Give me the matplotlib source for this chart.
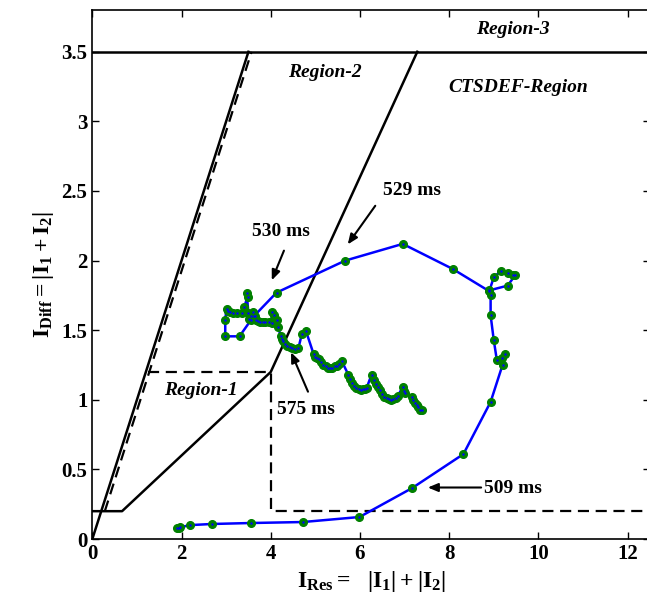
import matplotlib
matplotlib.use('Agg')
import matplotlib.pyplot as plt
import numpy as np

plt.rcParams['font.family'] = 'Liberation Serif'
plt.rcParams['font.weight'] = 'bold'
plt.rcParams['mathtext.fontset'] = 'custom'
plt.rcParams['mathtext.rm'] = 'Liberation Serif:bold'
plt.rcParams['mathtext.it'] = 'Liberation Serif:bold'
plt.rcParams['mathtext.bf'] = 'Liberation Serif:bold'

# trajectory of the operating point (I_res, I_diff)
i_res = [1.89, 1.94, 1.97, 2.19, 2.69, 3.56, 4.72, 5.99, 7.17, 8.32, 8.93, 9.20, 9.25, 9.18,
         9.07, 9.00, 8.93, 8.93, 8.90, 9.31, 9.48, 9.43, 9.31, 9.16, 9.00, 8.90, 8.08, 6.96,
         5.67, 4.13,
         3.62, 3.55, 3.30, 2.98, 2.98, 3.01, 3.05, 3.09, 3.16, 3.24, 3.35, 3.41, 3.48, 3.46,
         3.50, 3.52, 3.56, 3.60, 3.64, 3.68, 3.72, 3.76, 3.82, 3.88, 3.95, 4.02, 4.02, 4.07,
         4.13, 4.17, 4.22, 4.25, 4.28, 4.32, 4.37, 4.43, 4.48, 4.55, 4.62, 4.70, 4.79,
         4.96, 4.99, 5.03, 5.08, 5.13, 5.18, 5.23, 5.28, 5.33, 5.38, 5.43, 5.48, 5.53, 5.59,
         5.74, 5.78, 5.82, 5.87, 5.92, 5.97, 6.02, 6.07, 6.12, 6.15, 6.26,
         6.32, 6.36, 6.40, 6.45, 6.50, 6.55, 6.60, 6.65, 6.70, 6.75, 6.80, 6.85, 6.96, 6.98,
         7.02, 7.16, 7.20, 7.24, 7.27, 7.31, 7.35, 7.39]
i_diff = [0.077, 0.080, 0.084, 0.100, 0.108, 0.115, 0.122, 0.158, 0.366, 0.61, 0.985, 1.253, 1.33, 1.30,
          1.284, 1.43, 1.607, 1.755, 1.786, 1.82, 1.894, 1.90, 1.91, 1.925, 1.88, 1.78, 1.94, 2.12,
          2.00, 1.77,
          1.60, 1.57, 1.456, 1.456, 1.576, 1.655, 1.64, 1.63, 1.62, 1.62, 1.62, 1.67, 1.74, 1.77,
          1.62, 1.58, 1.60, 1.63, 1.60, 1.57, 1.565, 1.56, 1.56, 1.56, 1.56, 1.55, 1.63, 1.61,
          1.576, 1.52, 1.46, 1.44, 1.42, 1.40, 1.39, 1.38, 1.37, 1.365, 1.37, 1.476, 1.494,
          1.33, 1.31, 1.30, 1.29, 1.27, 1.25, 1.24, 1.23, 1.225, 1.23, 1.24, 1.245, 1.26, 1.28,
          1.18, 1.15, 1.12, 1.10, 1.085, 1.075, 1.07, 1.075, 1.08, 1.085, 1.18,
          1.14, 1.11, 1.09, 1.07, 1.04, 1.02, 1.01, 1.005, 1.00, 1.005, 1.01, 1.03, 1.09, 1.06,
          1.05, 1.02, 1.00, 0.98, 0.96, 0.945, 0.93, 0.925]

# characteristic boundaries
stab_x = [0, 0.667, 4, 7.286]
stab_y = [0.2, 0.2, 1.2, 3.5]
steep_x = [0, 3.5]
steep_y = [0, 3.5]
steep_dash_x = [0.28, 3.57]
steep_dash_y = [0.2, 3.5]
reg1_x = [1.25, 4, 4, 12.5]
reg1_y = [1.2, 1.2, 0.2, 0.2]
limit_y = 3.5

fig = plt.figure(figsize=(6.47, 6.07), dpi=100)
ax = fig.add_axes([0.1427, 0.112, 0.8617, 0.8715])

ax.plot(steep_x, steep_y, color='black', lw=1.8)
ax.plot(steep_dash_x, steep_dash_y, color='black', lw=1.6, ls=(0, (5, 3)))
ax.plot(stab_x, stab_y, color='black', lw=1.8)
ax.plot(reg1_x, reg1_y, color='black', lw=1.6, ls=(0, (5, 3)))
ax.axhline(limit_y, color='black', lw=1.8)

ax.plot(i_res, i_diff, '-o', color='blue', lw=1.8, ms=5.5, mfc='green', mec='green')
ax.plot(i_res, i_diff, '.', color='blue', ms=1.5)

reg_font = dict(fontsize=14, fontweight='bold', fontstyle='italic', ha='center', va='center')
ax.text(9.43, 3.66, 'Region-3', **reg_font)
ax.text(5.21, 3.35, 'Region-2', **reg_font)
ax.text(9.54, 3.24, 'CTSDEF-Region', **reg_font)
ax.text(2.44, 1.07, 'Region-1', **reg_font)

arr = dict(arrowstyle='-|>,head_length=0.6,head_width=0.25', color='black', lw=1.5)
ann_font = dict(fontsize=14, fontweight='bold', ha='center', va='center')
ax.annotate('', xy=(4.00, 1.84), xytext=(4.32, 2.09), arrowprops=arr)
ax.text(4.23, 2.21, '530 ms', **ann_font)
ax.annotate('', xy=(5.69, 2.10), xytext=(6.38, 2.41), arrowprops=arr)
ax.text(7.17, 2.50, '529 ms', **ann_font)
ax.annotate('', xy=(4.43, 1.36), xytext=(4.86, 1.04), arrowprops=arr)
ax.text(4.79, 0.93, '575 ms', **ann_font)
ax.annotate('', xy=(7.46, 0.37), xytext=(8.78, 0.37), arrowprops=arr)
ax.text(9.43, 0.36, '509 ms', **ann_font)

ax.set_xlim(0, 12.5)
ax.set_ylim(0, 3.8)
ax.set_xticks(np.arange(0, 13, 2))
ax.set_yticks(np.arange(0, 3.6, 0.5))
ax.set_yticklabels(['0', '0.5', '1', '1.5', '2', '2.5', '3', '3.5'])
ax.tick_params(direction='in', top=True, right=True, labelsize=15, length=5, width=1)
for s in ax.spines.values():
    s.set_linewidth(1.2)

ax.set_xlabel(r'$\mathrm{I_{Res}=\ \ |I_1| + |I_2|}$', fontsize=17, labelpad=4)
ax.set_ylabel(r'$\mathrm{I_{Diff} = |I_1 + I_2|}$', fontsize=17, labelpad=4)

fig.savefig('out.png', dpi=100)
